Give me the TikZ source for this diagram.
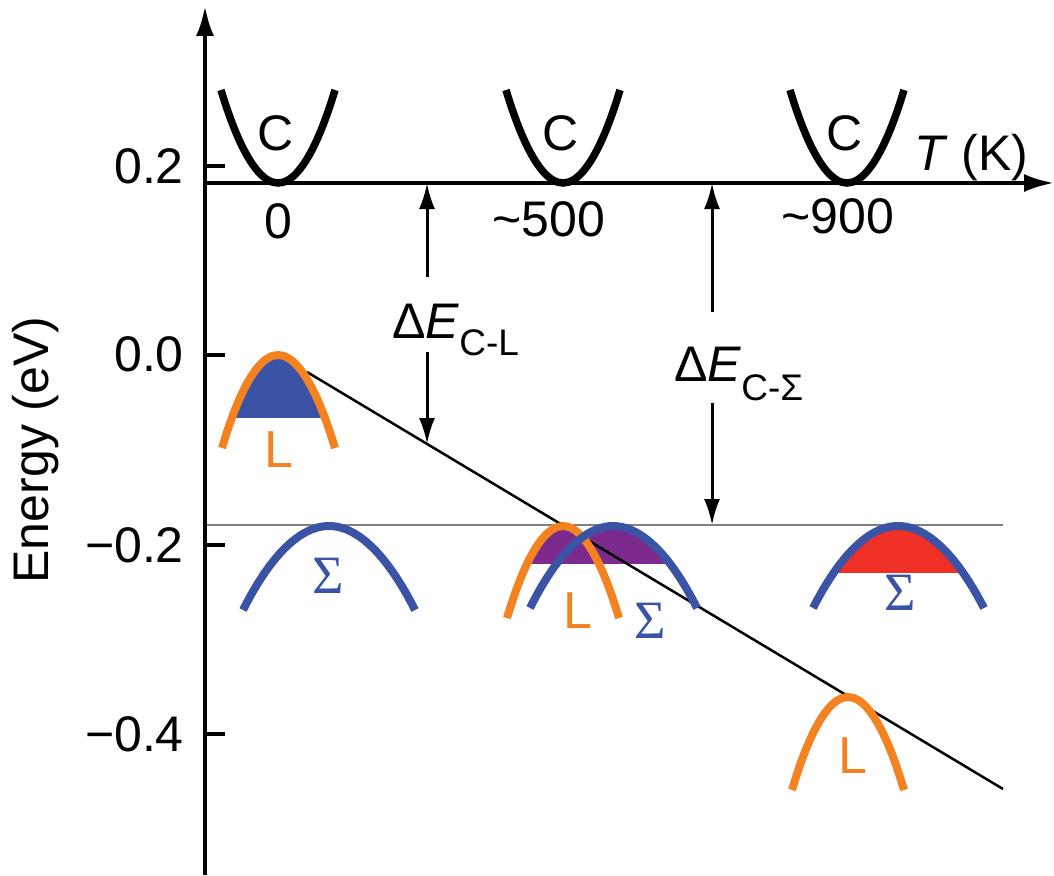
\documentclass[tikz,border=0pt]{standalone}
\usepackage{fontspec}
\setmainfont{Liberation Sans}
\newfontfamily\serifgr{Liberation Serif}
\usetikzlibrary{arrows.meta}
\definecolor{cOrange}{HTML}{F58220}
\definecolor{cBlue}{HTML}{3A53A4}
\definecolor{cPurple}{HTML}{7D2A8E}
\definecolor{cRed}{HTML}{EE3124}
\definecolor{cGray}{HTML}{808080}
\begin{document}
\begin{tikzpicture}[x=1pt,y=-1pt,
  lbl/.style={font=\fontsize{50}{58}\selectfont, inner sep=0pt},
  bandlbl/.style={font=\fontsize{52}{58}\selectfont, inner sep=0pt},
  sigmalbl/.style={font=\serifgr\fontsize{54}{60}\selectfont, inner sep=0pt, text=cBlue},
  axisline/.style={line width=4pt},
  axisarrow/.style={line width=4pt,-{Latex[length=30pt,width=18pt]}},
  band/.style={line width=8pt},
  cband/.style={line width=7.5pt, black},
  darrow/.style={line width=3pt,-{Latex[length=26pt,width=16pt]}},
]
\useasboundingbox (0,0) rectangle (1054,875);

% ---------- fills ----------
\begin{scope}
  \clip (200,300) rectangle (400,417);
  \fill[cBlue] (222,448) parabola bend (278,355) (335,448) -- cycle;
\end{scope}
\begin{scope}
  \clip (480,480) rectangle (720,563);
  \fill[cPurple] (507,618) parabola bend (563,526) (619,618) -- cycle;
  \fill[cPurple] (530,608) parabola bend (613,526) (697,608) -- cycle;
\end{scope}
\begin{scope}
  \clip (780,480) rectangle (1010,572);
  \fill[cRed] (813,608) parabola bend (898,526) (984,608) -- cycle;
\end{scope}

% ---------- reference lines ----------
\coordinate (gs) at (205,525);
\coordinate (ge) at (1003,525);
\draw[cGray, line width=2.5pt] (gs) -- (ge);
\coordinate (ss) at (307,372);
\coordinate (se) at (1003,789);
\draw[black, line width=2.5pt] (ss) -- (se);

% ---------- axes ----------
\coordinate (yb) at (205,875);
\coordinate (yt) at (205,6);
\draw[axisarrow] (yb) -- (yt);
\coordinate (xl) at (203,183);
\coordinate (xr) at (1054,183);
\draw[axisarrow] (xl) -- (xr);
\foreach \yy in {166,355,545,734}
  \draw[axisline] (205,\yy) -- (225,\yy);

\node[lbl, anchor=base east] (t02) at (184,183) {0.2};
\node[lbl, anchor=base east] (t00) at (184,371) {0.0};
\node[lbl, anchor=base east] (tm02) at (184,562) {−0.2};
\node[lbl, anchor=base east] (tm04) at (184,751) {−0.4};
\node[lbl, rotate=90] (ylab) at (36,450) {Energy (eV)};

\node[lbl, anchor=base] (T0) at (278,238) {0};
\node[lbl, anchor=base] (T500) at (549,236) {\textasciitilde 500};
\node[lbl, anchor=base] (T900) at (838,233) {\textasciitilde 900};
\node[lbl, anchor=base west] (Tlab) at (914,170) {\textit{T} (K)};

% ---------- C bands ----------
\draw[cband] (221,90) parabola bend (278,183) (335,90);
\draw[cband] (506,90) parabola bend (563,183) (620,90);
\draw[cband] (790,90) parabola bend (847,183) (904,90);
\node[lbl, anchor=base] (C1) at (276,150) {C};
\node[lbl, anchor=base] (C2) at (561,150) {C};
\node[lbl, anchor=base] (C3) at (845,150) {C};

% ---------- L and Sigma bands ----------
\draw[band, cOrange] (222,448) parabola bend (278,355) (335,448);
\draw[band, cBlue] (243,610) parabola bend (329,526) (415,610);
\draw[band, cOrange] (507,618) parabola bend (563,526) (619,618);
\draw[band, cBlue] (530,608) parabola bend (613,526) (697,608);
\draw[band, cBlue] (813,608) parabola bend (898,526) (984,608);
\draw[band, cOrange] (792,790) parabola bend (848,697) (904,790);

\node[bandlbl, anchor=base, text=cOrange] (L1) at (279,467) {L};
\node[bandlbl, anchor=base, text=cOrange] (L2) at (578,628) {L};
\node[bandlbl, anchor=base, text=cOrange] (L3) at (853,773) {L};
\node[sigmalbl, anchor=base] (S1) at (328,593) {Σ};
\node[sigmalbl, anchor=base] (S2) at (650,638) {Σ};
\node[sigmalbl, anchor=base] (S3) at (900,610) {Σ};

% ---------- energy gap arrows ----------
\coordinate (a1t) at (427,183);
\coordinate (a1s) at (427,277);
\coordinate (a1e) at (427,352);
\coordinate (a1b) at (427,444);
\draw[darrow] (a1s) -- (a1t);
\draw[darrow] (a1e) -- (a1b);
\node[lbl, anchor=base west] (dECL) at (392,338) {Δ\textit{E}\raisebox{-17pt}{\fontsize{37}{40}\selectfont C-L}};

\coordinate (a2t) at (712,183);
\coordinate (a2s) at (712,312);
\coordinate (a2e) at (712,403);
\coordinate (a2b) at (712,525);
\draw[darrow] (a2s) -- (a2t);
\draw[darrow] (a2e) -- (a2b);
\node[lbl, anchor=base west] (dECS) at (674,381) {Δ\textit{E}\raisebox{-19pt}{\fontsize{37}{40}\selectfont C-Σ}};
\end{tikzpicture}
\end{document}
